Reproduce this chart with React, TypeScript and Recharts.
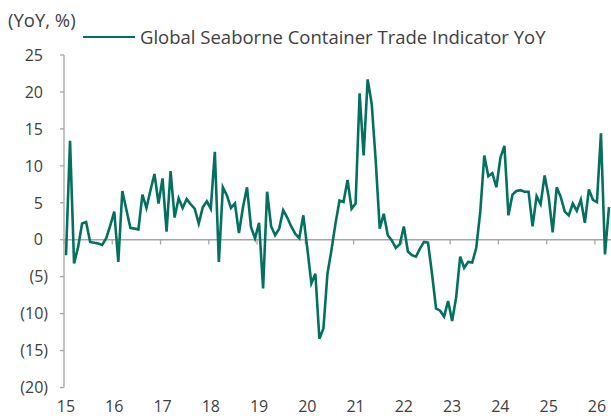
import { LineChart, Line, XAxis, YAxis, ReferenceLine } from 'recharts';

// monthly YoY, Jan 2015 .. Apr 2026
const YOY_2015 = [-2.1, 13.4, -3.2, -1.0, 2.2, 2.4, -0.3, -0.4, -0.5, -0.7, 0.2, 1.9];
const YOY_2016 = [3.8, -3.0, 6.6, 4.1, 1.6, 1.5, 1.4, 6.1, 4.3, 6.7, 8.9, 4.9];
const YOY_2017 = [8.3, 1.1, 9.3, 3.0, 5.6, 4.3, 5.5, 4.8, 4.2, 2.2, 4.4, 5.2];
const YOY_2018 = [4.2, 11.9, -3.0, 7.1, 6.0, 4.3, 4.9, 0.9, 4.4, 7.1, 1.7, 0.2];
const YOY_2019 = [2.3, -6.6, 6.5, 1.8, 0.6, 1.5, 4.0, 3.0, 1.8, 0.8, 0.2, 3.3];
const YOY_2020 = [-1.2, -5.9, -4.6, -13.4, -12.0, -4.6, -1.4, 2.2, 5.3, 5.1, 8.1, 4.2];
const YOY_2021 = [4.9, 19.8, 11.4, 21.7, 18.4, 10.7, 1.5, 3.5, 0.6, -0.1, -1.1, -0.6];
const YOY_2022 = [1.8, -1.6, -2.1, -2.3, -1.2, -0.3, -0.4, -4.6, -9.3, -9.6, -10.4, -8.3];
const YOY_2023 = [-11.0, -7.8, -2.3, -3.8, -3.0, -3.1, -1.1, 3.8, 11.4, 8.6, 9.0, 7.1];
const YOY_2024 = [11.1, 12.7, 3.3, 6.1, 6.6, 6.7, 6.5, 6.5, 1.8, 5.9, 4.8, 8.7];
const YOY_2025 = [5.8, 1.0, 7.1, 5.8, 3.8, 3.3, 4.9, 3.9, 5.4, 2.3, 6.8, 5.4];
const YOY_2026 = [5.1, 14.4, -2.0, 4.4];

const YOY = [
    ...YOY_2015, ...YOY_2016, ...YOY_2017, ...YOY_2018, ...YOY_2019, ...YOY_2020,
    ...YOY_2021, ...YOY_2022, ...YOY_2023, ...YOY_2024, ...YOY_2025, ...YOY_2026,
];

const YEAR_LABELS = ['15', '16', '17', '18', '19', '20', '21', '22', '23', '24', '25', '26'];
const YEAR_TICKS = YEAR_LABELS.map((_, i) => i * 12);
const Y_TICKS = [-20, -15, -10, -5, 0, 5, 10, 15, 20, 25];
const TOTAL_MONTHS = 136;

const TEAL = '#04705F';
const AXIS = '#A6A6A6';
const TEXT = '#404040';
const FONT = '"Open Sans", sans-serif';

// points sit in the middle of their month
const data = YOY.map((v, i) => ({ t: i + 0.5, yoy: v }));

const XTick = (props: any) => {
    const { x, y, payload } = props;
    const idx = YEAR_TICKS.indexOf(payload.value);
    return (
        <text x={x + 2} y={y} dy={16} textAnchor="middle" fontSize={16} fontFamily={FONT} fill={TEXT}>
            {YEAR_LABELS[idx]}
        </text>
    );
};

const YTick = (props: any) => {
    const { x, y, payload } = props;
    const v = payload.value as number;
    const neg = v < 0;
    return (
        <text x={neg ? x - 10 : x - 15} y={y} dy="0.36em" textAnchor="end" fontSize={16} fontFamily={FONT} fill={TEXT}>
            {neg ? `(${-v})` : `${v}`}
        </text>
    );
};

export default function App() {
    return (
        <div style={{ position: 'absolute', left: 0, top: 0, width: 611, height: 416, background: '#fff' }}>
            <div style={{ position: 'absolute', left: 8, top: 8, fontFamily: FONT, fontSize: 18.5, color: TEXT, lineHeight: '24px' }}>
                (YoY, %)
            </div>
            <div style={{ position: 'absolute', left: 83, top: 25, display: 'flex', alignItems: 'center', fontFamily: FONT, fontSize: 18.5, color: TEXT, lineHeight: '24px' }}>
                <span style={{ display: 'inline-block', width: 52, height: 0, borderTop: `2.5px solid ${TEAL}`, marginRight: 5 }} />
                <span>Global Seaborne Container Trade Indicator YoY</span>
            </div>
            <LineChart width={611} height={416} data={data} margin={{ top: 55, right: 0, bottom: 0, left: 0 }}>
                <XAxis
                    dataKey="t"
                    type="number"
                    domain={[0, TOTAL_MONTHS]}
                    ticks={YEAR_TICKS}
                    interval={0}
                    axisLine={false}
                    tickLine={false}
                    height={28.5}
                    tick={<XTick />}
                />
                <YAxis
                    domain={[-20, 25]}
                    ticks={Y_TICKS}
                    interval={0}
                    width={64}
                    tickSize={4}
                    axisLine={{ stroke: AXIS, strokeWidth: 1.3 }}
                    tickLine={{ stroke: AXIS, strokeWidth: 1.3 }}
                    tick={<YTick />}
                />
                <ReferenceLine y={0} stroke={AXIS} strokeWidth={1.5} />
                {YEAR_TICKS.map((t) => (
                    <ReferenceLine
                        key={t}
                        segment={[{ x: t, y: 0 }, { x: t, y: -0.65 }]}
                        stroke={AXIS}
                        strokeWidth={1.3}
                    />
                ))}
                <Line
                    type="linear"
                    dataKey="yoy"
                    stroke={TEAL}
                    strokeWidth={2.6}
                    dot={false}
                    isAnimationActive={false}
                />
            </LineChart>
        </div>
    );
}
